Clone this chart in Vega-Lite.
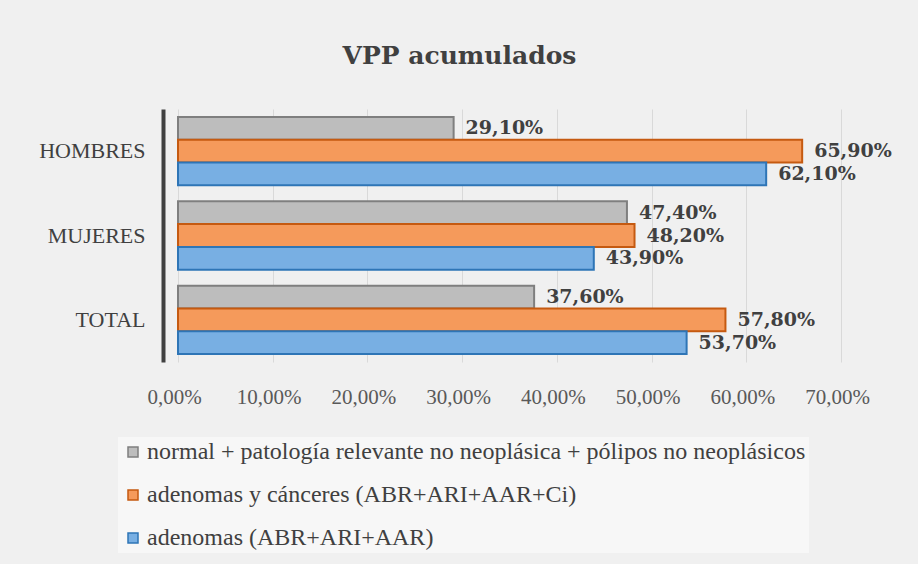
{
  "$schema": "https://vega.github.io/schema/vega-lite/v6.json",
  "autosize": {"type": "none"},
  "padding": {"left": 178, "top": 109, "right": 77, "bottom": 202},
  "width": 663,
  "height": 253,
  "background": "#f0f0f0",
  "config": {
    "locale": {"number": {"decimal": ",", "thousands": ".", "grouping": [3], "currency": ["", " €"]}},
    "view": {"stroke": null},
    "font": "Liberation Serif"
  },
  "title": {
    "text": "VPP acumulados",
    "font": "DejaVu Serif",
    "fontSize": 25,
    "fontWeight": "bold",
    "color": "#404040",
    "anchor": "middle",
    "dx": -50,
    "offset": 40
  },
  "data": {
    "values": [
      {"grupo": "HOMBRES", "serie": "normal + patología relevante no neoplásica + pólipos no neoplásicos", "orden": 1, "valor": 0.291},
      {"grupo": "HOMBRES", "serie": "adenomas y cánceres (ABR+ARI+AAR+Ci)", "orden": 2, "valor": 0.659},
      {"grupo": "HOMBRES", "serie": "adenomas (ABR+ARI+AAR)", "orden": 3, "valor": 0.621},
      {"grupo": "MUJERES", "serie": "normal + patología relevante no neoplásica + pólipos no neoplásicos", "orden": 1, "valor": 0.474},
      {"grupo": "MUJERES", "serie": "adenomas y cánceres (ABR+ARI+AAR+Ci)", "orden": 2, "valor": 0.482},
      {"grupo": "MUJERES", "serie": "adenomas (ABR+ARI+AAR)", "orden": 3, "valor": 0.439},
      {"grupo": "TOTAL", "serie": "normal + patología relevante no neoplásica + pólipos no neoplásicos", "orden": 1, "valor": 0.376},
      {"grupo": "TOTAL", "serie": "adenomas y cánceres (ABR+ARI+AAR+Ci)", "orden": 2, "valor": 0.578},
      {"grupo": "TOTAL", "serie": "adenomas (ABR+ARI+AAR)", "orden": 3, "valor": 0.537}
    ]
  },
  "encoding": {
    "y": {
      "field": "grupo",
      "type": "nominal",
      "sort": ["HOMBRES", "MUJERES", "TOTAL"],
      "scale": {"paddingInner": 0.19, "paddingOuter": 0.095},
      "axis": {
        "title": null,
        "ticks": false,
        "domain": true,
        "domainColor": "#404040",
        "domainWidth": 4,
        "offset": 15,
        "labelFont": "Liberation Serif",
        "labelFontSize": 22,
        "labelColor": "#404040",
        "labelPadding": 18
      }
    },
    "x": {
      "field": "valor",
      "type": "quantitative",
      "scale": {"domain": [0, 0.7], "nice": false},
      "axis": {
        "title": null,
        "format": ".2%",
        "values": [0, 0.1, 0.2, 0.3, 0.4, 0.5, 0.6, 0.7],
        "domain": false,
        "ticks": false,
        "grid": true,
        "gridColor": "#d9d9d9",
        "labelFont": "Liberation Serif",
        "labelFontSize": 21,
        "labelColor": "#595959",
        "labelPadding": 24,
        "labelOverlap": false,
        "labelFlush": false,
        "labelOffset": -4
      }
    },
    "yOffset": {"field": "orden", "type": "ordinal", "scale": {"paddingInner": 0}}
  },
  "layer": [
    {
      "mark": {"type": "bar", "strokeWidth": 2, "height": {"band": 1}},
      "encoding": {
        "fill": {
          "field": "serie",
          "type": "nominal",
          "sort": ["normal + patología relevante no neoplásica + pólipos no neoplásicos", "adenomas y cánceres (ABR+ARI+AAR+Ci)", "adenomas (ABR+ARI+AAR)"],
          "scale": {
            "domain": ["normal + patología relevante no neoplásica + pólipos no neoplásicos", "adenomas y cánceres (ABR+ARI+AAR+Ci)", "adenomas (ABR+ARI+AAR)"],
            "range": ["#bdbdbd", "#f59a5b", "#78afe3"]
          },
          "legend": {
            "title": null,
            "orient": "none",
            "legendX": -60,
            "legendY": 328,
            "direction": "vertical",
            "labelFont": "Liberation Serif",
            "labelFontSize": 24,
            "labelColor": "#404040",
            "labelLimit": 800,
            "symbolType": "square",
            "symbolSize": 100,
            "symbolStrokeWidth": 1.5,
            "symbolOpacity": 1,
            "rowPadding": 19,
            "labelOffset": 2,
            "fillColor": "#f7f7f7",
            "padding": 3,
            "encode": {
              "symbols": {"update": {"stroke": {"scale": "stroke", "field": "value"}}}
            }
          }
        },
        "stroke": {
          "field": "serie",
          "type": "nominal",
          "scale": {
            "domain": ["normal + patología relevante no neoplásica + pólipos no neoplásicos", "adenomas y cánceres (ABR+ARI+AAR+Ci)", "adenomas (ABR+ARI+AAR)"],
            "range": ["#7f7f7f", "#c55a11", "#2e75b6"]
          },
          "legend": null
        }
      }
    },
    {
      "mark": {"type": "text", "align": "left", "baseline": "middle", "dx": 12, "font": "DejaVu Serif", "fontSize": 19, "fontWeight": "bold", "color": "#404040"},
      "encoding": {
        "text": {"field": "valor", "type": "quantitative", "format": ".2%"}
      }
    }
  ]
}
